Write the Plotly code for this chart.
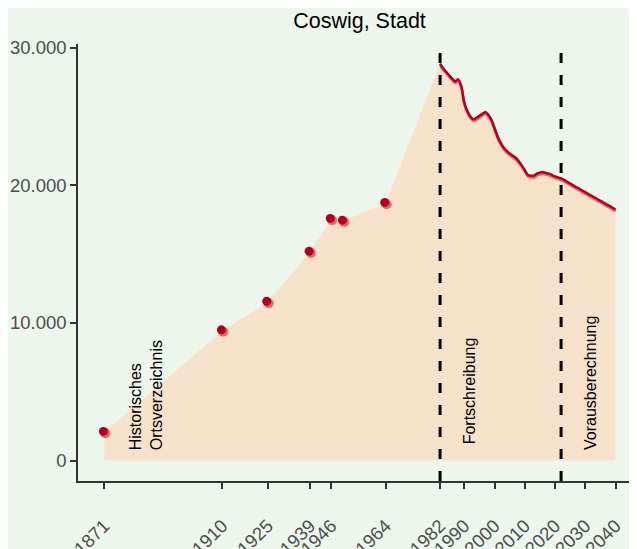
import plotly.graph_objects as go

# Historical census points (Historisches Ortsverzeichnis)
hist_years = [1871, 1910, 1925, 1939, 1946, 1950, 1964]
hist_values = [2050, 9430, 11500, 15150, 17530, 17400, 18690]

# Annual update (Fortschreibung) 1982-2022 and projection (Vorausberechnung) 2023-2040
line_years = list(range(1982, 2041))
line_values = [
    28850, 28500, 28250, 28000, 27750, 27550, 27700, 27200, 26000, 25400,
    25000, 24800, 24900, 25050, 25200, 25330, 25100, 24750, 24150, 23550,
    23100, 22750, 22500, 22320, 22150, 22000, 21750, 21450, 21100, 20750,
    20700, 20700, 20850, 20920, 20970, 20900, 20850, 20750, 20650, 20580,
    20500,
    20390, 20260, 20130, 20000, 19870, 19750, 19620, 19500, 19370, 19250,
    19120, 19000, 18870, 18750, 18620, 18500, 18370, 18250,
]

x_ticks = [1871, 1910, 1925, 1939, 1946, 1964, 1982, 1990, 2000, 2010, 2020, 2030, 2040]
y_ticks = [0, 10000, 20000, 30000]
phase_breaks = [1982, 2022]

title = "Coswig, Stadt"
labels = [
    ("Historisches<br>Ortsverzeichnis", 1884.8, 600),
    ("Fortschreibung", 1991.6, 1000),
    ("Vorausberechnung", 2031.7, 650),
]

# page body has an 8px margin: figure sized so it fills the window
OFF = 8
W, H = 637 - OFF, 549 - OFF
ML, MR, MT, MB = 78 - OFF, 0, 44 - OFF, 68
xr = [1862.3, 2047.1]
yr = [-1490, 30270]
px_x = (xr[1] - xr[0]) / (W - ML - MR)
px_y = (yr[1] - yr[0]) / (H - MT - MB)

bg = "#edf6ec"
area_col = "#f6e2cb"
dark = "#b3001f"
light = "#e06a6a"

fig = go.Figure()

fig.add_trace(go.Scatter(
    x=hist_years + line_years, y=hist_values + line_values,
    mode="lines", line=dict(width=0), fill="tozeroy", fillcolor=area_col,
    hoverinfo="skip", showlegend=False,
))

# line with shadow
fig.add_trace(go.Scatter(
    x=[v + 0.3 * px_x for v in line_years], y=[v - 1.6 * px_y for v in line_values],
    mode="lines", line=dict(color=light, width=3, shape="spline", smoothing=0.6), showlegend=False,
))
fig.add_trace(go.Scatter(
    x=line_years, y=line_values,
    mode="lines", line=dict(color=dark, width=2.5, shape="spline", smoothing=0.6), showlegend=False,
))

# two-tone points
fig.add_trace(go.Scatter(
    x=[v + 1.0 * px_x for v in hist_years], y=[v - 1.0 * px_y for v in hist_values],
    mode="markers", marker=dict(color=light, size=10, line=dict(width=0)), showlegend=False,
))
fig.add_trace(go.Scatter(
    x=[v - 0.9 * px_x for v in hist_years], y=[v + 0.9 * px_y for v in hist_values],
    mode="markers", marker=dict(color=dark, size=9, line=dict(width=0)), showlegend=False,
))

for b in phase_breaks:
    fig.add_shape(type="line", xref="x", yref="paper", x0=b, x1=b, y0=0, y1=1,
                  line=dict(color="black", width=3, dash="10px,12px"))

for txt, x, y in labels:
    fig.add_annotation(x=x, y=y, text=txt, textangle=-90, showarrow=False,
                       xanchor="center", yanchor="bottom", align="left",
                       font=dict(family="Liberation Sans, Arial", size=16, color="black"))

fig.update_layout(
    width=W, height=H,
    margin=dict(l=ML, r=MR, t=MT, b=MB, autoexpand=False),
    paper_bgcolor=bg, plot_bgcolor=bg,
    separators=",.",
    title=dict(text=title, x=(359.5 - OFF) / W, xanchor="center",
               y=1 - (20 - OFF) / H, yanchor="middle",
               font=dict(family="Liberation Sans, Arial", size=21.5, color="black")),
    font=dict(family="Liberation Sans, Arial"),
    showlegend=False,
)
fig.update_xaxes(range=xr, tickvals=x_ticks, ticktext=[str(v) for v in x_ticks],
                 tickangle=-45, ticks="outside", ticklen=6, tickwidth=2, tickcolor="#333333",
                 showline=True, linecolor="#333333", linewidth=1.5, showgrid=False, zeroline=False,
                 tickfont=dict(size=18.5, color="#4d4d4d"), ticklabelstandoff=19, automargin=False)
fig.update_yaxes(range=yr, tickvals=y_ticks, tickformat=",d",
                 ticks="outside", ticklen=6, tickwidth=2, tickcolor="#333333",
                 showline=True, linecolor="#333333", linewidth=1.5, showgrid=False, zeroline=False,
                 tickfont=dict(size=18.5, color="#4d4d4d"), automargin=False)

fig.write_html("out.html")
